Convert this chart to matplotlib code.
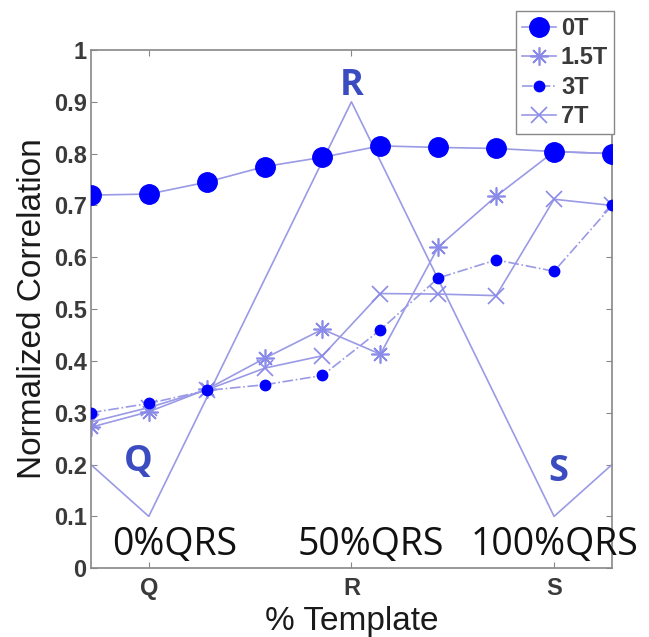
from matplotlib import pyplot as plt
import numpy as np

#####################################################################
# Normalized correlation vs. template position
#####################################################################

pos = [1, 2, 3, 4, 5, 6, 7, 8, 9, 10]
t0 = [0.720, 0.722, 0.745, 0.775, 0.793, 0.815, 0.812, 0.810, 0.804, 0.800]
t15 = [0.272, 0.302, 0.345, 0.405, 0.461, 0.413, 0.620, 0.718, 0.804, 0.800]
t3 = [0.300, 0.318, 0.343, 0.354, 0.372, 0.460, 0.560, 0.595, 0.573, 0.700]
t7 = [0.282, 0.310, 0.344, 0.386, 0.410, 0.530, 0.529, 0.526, 0.712, 0.700]

qrs_x = [1, 2, 5.5, 9, 10]
qrs_y = [0.2, 0.1, 0.9, 0.1, 0.2]

tick_pos = [2, 5.5, 9]
tick_lab = ["Q", "R", "S"]

line_c = "#9a9ae6"
dot_c = "#0000ff"
lw = 1.2

plt.rcParams['font.family'] = ['Liberation Sans', 'DejaVu Sans']
fig = plt.figure(figsize=(6.49, 6.37), dpi=100)
ax = fig.add_axes([0.140, 0.108, 0.803, 0.8135])

ax.plot(qrs_x, qrs_y, color=line_c, lw=lw)
ax.plot(pos, t0, color=line_c, lw=lw, marker="o", markersize=14,
        markerfacecolor=dot_c, markeredgecolor=dot_c, label="0T", zorder=5)
ax.plot(pos, t15, color=line_c, lw=lw, marker=(8, 2, 0), markersize=13,
        markeredgecolor="#8a8ae8", markeredgewidth=1.2, label="1.5T")
ax.plot(pos, t3, color=line_c, lw=lw, ls="-.", marker="o", markersize=7.5,
        markerfacecolor=dot_c, markeredgecolor=dot_c, label="3T", zorder=4)
ax.plot(pos, t7, color=line_c, lw=lw, marker="x", markersize=11,
        markeredgecolor="#8a8ae8", markeredgewidth=1.2, label="7T")

ax.set_xlim(1, 10)
ax.set_ylim(0, 1)
ax.set_xticks(tick_pos)
ax.set_xticklabels(tick_lab)
ax.set_yticks(np.arange(0, 1.01, 0.1))
ax.set_yticklabels(["0", "0.1", "0.2", "0.3", "0.4", "0.5", "0.6", "0.7", "0.8", "0.9", "1"])
ax.tick_params(direction="in", top=True, right=True, length=4, color="#888888",
               labelcolor="#3a3a3a", labelsize=17, pad=3)
ax.tick_params(axis="x", pad=6)
for lab in ax.get_yticklabels() + ax.get_xticklabels():
    lab.set_fontweight("bold")
for s in ax.spines.values():
    s.set_color("#888888")
    s.set_linewidth(1.2)

ax.set_ylabel("Normalized Correlation", fontsize=24, color="#1a1a1a", labelpad=4)
ax.set_xlabel("% Template", fontsize=24, color="#1a1a1a", labelpad=5)

# wave labels
wave_font = dict(color="#3b4cc0", fontsize=26, fontweight="bold",
                 family=["Open Sans", "DejaVu Sans"], ha="center", va="center")
ax.text(1.82, 0.205, "Q", **wave_font)
ax.text(5.5, 0.93, "R", **wave_font)
ax.text(9.08, 0.185, "S", **wave_font)

pct_font = dict(color="#111111", fontsize=27, family=["Open Sans", "DejaVu Sans"],
                ha="center", va="center", clip_on=False, zorder=10)
ax.text(2.45, 0.045, "0%QRS", **pct_font)
ax.text(5.84, 0.045, "50%QRS", **pct_font)
ax.text(9.0, 0.045, "100%QRS", **pct_font)

leg = ax.legend(loc="upper right", bbox_to_anchor=(1.004, 1.075), fontsize=17,
                handlelength=1.45, handletextpad=0.2, borderpad=0.25,
                labelspacing=0.27, fancybox=False, framealpha=1,
                edgecolor="#888888", borderaxespad=0)
for t in leg.get_texts():
    t.set_fontweight("bold")
    t.set_color("#3a3a3a")

plt.savefig("out.png", dpi=100)
